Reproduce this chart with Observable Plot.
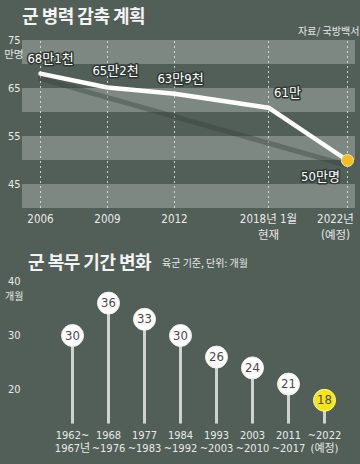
<!DOCTYPE html>
<html><head><meta charset="utf-8">
<script src="https://cdn.jsdelivr.net/npm/d3@7"></script>
<script src="https://cdn.jsdelivr.net/npm/@observablehq/plot@0.6"></script>
<style>
body{margin:0;background:#525e58;width:360px;height:464px;overflow:hidden;position:relative;font-family:"DejaVu Sans Condensed","Noto Sans CJK KR",sans-serif;color:#eef0ee}
.t{position:absolute;font-family:"Noto Sans CJK KR",sans-serif;font-weight:700;font-size:18px;color:#f2f3f2;white-space:nowrap;letter-spacing:-0.5px}
.s{position:absolute;font-family:"Noto Sans CJK KR",sans-serif;font-size:10px;color:#e6e9e7;white-space:nowrap}
.c{position:absolute;left:0}
</style></head><body>
<div class="t" style="left:22px;top:2px">군 병력 감축 계획</div>
<div class="s" style="left:298px;top:23px">자료/ 국방백서</div>
<div class="c" id="c1" style="top:28px"></div>
<div class="t" style="left:28px;top:248px">군 복무 기간 변화</div>
<div class="s" style="left:162px;top:255px">육군 기준, 단위: 개월</div>
<div class="c" id="c2" style="top:270px"></div>
<script>
// Top chart data
const years = [2006, 2009, 2012, 2018, 2022];
const troops = [68.1, 65.2, 63.9, 61.0, 50.0];
const troopLabels = ["68만1천", "65만2천", "63만9천", "61만", "50만명"];
const yearLabels = ["2006", "2009", "2012", "2018년 1월\n현재", "2022년\n(예정)"];
const troopTicks = [75, 65, 55, 45];

// Bottom chart data
const periods = ["1962~1967", "1968~1976", "1977~1983", "1984~1992", "1993~2003", "2003~2010", "2011~2017", "~2022"];
const periodLabels = ["1962~\n1967년", "1968\n~1976", "1977\n~1983", "1984\n~1992", "1993\n~2003", "2003\n~2010", "2011\n~2017", "~2022\n(예정)"];
const months = [30, 36, 33, 30, 26, 24, 21, 18];
const monthTicks = [40, 30, 20];

const BAND = "#7d8882", TXT = "#e8ebe9";
const font = '"DejaVu Sans Condensed","Noto Sans CJK KR",sans-serif';
const kfont = '"Noto Sans CJK KR",sans-serif';

const troopRows = years.map((y, i) => ({year: y, v: troops[i], label: troopLabels[i], xl: yearLabels[i]}));
const labOff = [[10,-15],[8,-17],[6,-15],[19,-15],[-27,16]];

const p1 = Plot.plot({
  width: 360, height: 218,
  marginTop: 12, marginBottom: 38, marginLeft: 22, marginRight: 5,
  style: {background: "transparent", fontFamily: font, fontSize: "11px", color: TXT},
  x: {type: "linear", domain: [2006, 2012, 2018, 2022], range: [40, 174, 268, 347], axis: null},
  y: {domain: [40, 75], axis: null},
  marks: [
    Plot.rect(troopTicks, {y1: d => d - 5, y2: d => d, x1: 2006, x2: 2022, fill: BAND, insetLeft: -18, insetRight: -8}),
    Plot.ruleX(years, {y1: 40, y2: 75, stroke: "#e8ece9", strokeWidth: 1, strokeDasharray: "2,3", strokeOpacity: 0.8}),
    Plot.line([troopRows[0], troopRows[4]], {x: "year", y: "v", dy: 5, stroke: "#36403b", strokeWidth: 5, strokeOpacity: 0.38}),
    Plot.line(troopRows, {x: "year", y: "v", stroke: "#ffffff", strokeWidth: 4.5}),
    Plot.dot([troopRows[4]], {x: "year", y: "v", r: 6, fill: "#f6bd1c", stroke: "#f3e7b8", strokeWidth: 1}),
    ...troopRows.map((d, i) => Plot.text([d], {x: "year", y: "v", text: "label", dx: labOff[i][0], dy: labOff[i][1],
      fill: "#ffffff", stroke: "#2f3833", strokeWidth: 3, fontSize: 13, fontFamily: font, letterSpacing: "-0.5px"})),
    Plot.axisY(troopTicks, {tickSize: 0, tickPadding: 2, fontSize: 11, fill: TXT, label: null}),
    Plot.text(["만명"], {frameAnchor: "left", y: [75], dx: 1, dy: 14, textAnchor: "end", fill: TXT, fontSize: 10.5, fontFamily: kfont}),
    Plot.text(troopRows.slice(0, 4), {x: "year", y: 40, text: "xl", lineAnchor: "top", dy: 3, fontSize: 11.5, lineHeight: 1.4, fill: TXT, letterSpacing: "-0.3px"}),
    Plot.text(troopRows.slice(4), {x: "year", y: 40, text: "xl", lineAnchor: "top", dy: 3, dx: -12, fontSize: 11.5, lineHeight: 1.4, fill: TXT, letterSpacing: "-0.3px"})
  ]
});
document.getElementById("c1").append(p1);

const monthRows = periods.map((p, i) => ({p, v: months[i], xl: periodLabels[i], last: i === periods.length - 1}));
const p2 = Plot.plot({
  width: 360, height: 194,
  marginTop: 11, marginBottom: 48, marginLeft: 22, marginRight: 5,
  style: {background: "transparent", fontFamily: font, fontSize: "11px", color: TXT},
  x: {type: "point", domain: periods, range: [53, 343], axis: null},
  y: {domain: [15, 40], axis: null},
  marks: [
    Plot.rect(monthTicks, {y1: d => d - 5, y2: d => d, x1: periods[0], x2: periods[7], fill: BAND, insetLeft: -31, insetRight: -12}),
    Plot.ruleX(monthRows, {x: "p", y1: 13.6, y2: "v", stroke: "#cfd4d1", strokeWidth: 3}),
    Plot.dot(monthRows, {x: "p", y: "v", r: 11, fill: d => d.last ? "#f7e614" : "#ffffff", stroke: d => d.last ? "#fff7a0" : "#eeeeee", strokeWidth: 1}),
    Plot.text(monthRows, {x: "p", y: "v", text: d => String(d.v), fill: "#4a4a4a", fontSize: 13, fontFamily: font}),
    Plot.axisY(monthTicks, {tickSize: 0, tickPadding: 2, fontSize: 11, fill: TXT, label: null}),
    Plot.text(["개월"], {frameAnchor: "left", y: [40], dx: 1, dy: 15, textAnchor: "end", fill: TXT, fontSize: 10, fontFamily: kfont}),
    Plot.text(monthRows, {x: "p", y: 15, text: "xl", lineAnchor: "top", dy: 13, fontSize: 11, lineHeight: 1.2, fill: TXT, letterSpacing: "-0.6px"})
  ]
});
document.getElementById("c2").append(p2);
</script>
</body></html>
